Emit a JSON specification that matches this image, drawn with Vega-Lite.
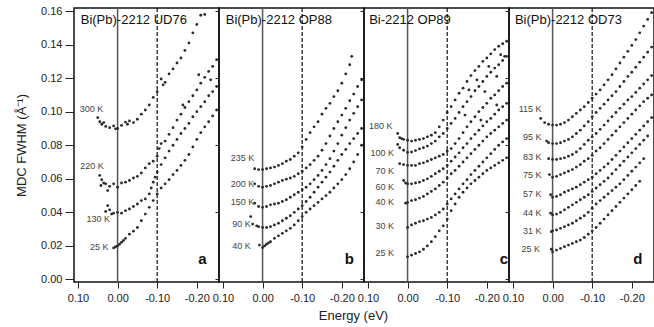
{
"$schema": "https://vega.github.io/schema/vega-lite/v6.json",
"padding": {"left": 14, "top": 4, "right": 2, "bottom": 2},
"background": "white",
"spacing": 0,
"bounds": "flush",
"config": {
  "view": {"stroke": "#111", "strokeWidth": 1.5},
  "font": "Liberation Sans",
  "axis": {"grid": false, "domain": false, "labelFont": "Liberation Sans", "labelFontSize": 11, "labelColor": "#222", "tickColor": "#222", "titleFont": "Liberation Sans", "titleFontWeight": "normal", "titleColor": "#222", "labelOverlap": false},
  "text": {"font": "Liberation Sans"}
},
"datasets": {
"labs": [
{"p":"a","k":"h","E":0.093,"W":0.1545,"txt":"Bi(Pb)-2212 UD76"},
{"p":"b","k":"h","E":0.093,"W":0.1545,"txt":"Bi(Pb)-2212 OP88"},
{"p":"c","k":"h","E":0.097,"W":0.1545,"txt":"Bi-2212 OP89"},
{"p":"d","k":"h","E":0.095,"W":0.1545,"txt":"Bi(Pb)-2212 OD73"},
{"p":"a","k":"l","E":-0.214,"W":0.012,"txt":"a"},
{"p":"b","k":"l","E":-0.219,"W":0.012,"txt":"b"},
{"p":"c","k":"l","E":-0.243,"W":0.012,"txt":"c"},
{"p":"d","k":"l","E":-0.215,"W":0.012,"txt":"d"},
{"p":"a","k":"t","E":0.036,"W":0.1018,"txt":"300 K"},
{"p":"a","k":"t","E":0.035,"W":0.0678,"txt":"220 K"},
{"p":"a","k":"t","E":0.019,"W":0.0359,"txt":"130 K"},
{"p":"a","k":"t","E":0.023,"W":0.0193,"txt":"25 K"},
{"p":"b","k":"t","E":0.021,"W":0.0725,"txt":"235 K"},
{"p":"b","k":"t","E":0.021,"W":0.0569,"txt":"200 K"},
{"p":"b","k":"t","E":0.021,"W":0.0459,"txt":"150 K"},
{"p":"b","k":"t","E":0.03,"W":0.0333,"txt":"90 K"},
{"p":"b","k":"t","E":0.03,"W":0.0199,"txt":"40 K"},
{"p":"c","k":"t","E":0.038,"W":0.0912,"txt":"180 K"},
{"p":"c","k":"t","E":0.034,"W":0.0752,"txt":"100 K"},
{"p":"c","k":"t","E":0.034,"W":0.0649,"txt":"70 K"},
{"p":"c","k":"t","E":0.034,"W":0.0549,"txt":"60 K"},
{"p":"c","k":"t","E":0.034,"W":0.0459,"txt":"40 K"},
{"p":"c","k":"t","E":0.034,"W":0.0319,"txt":"30 K"},
{"p":"c","k":"t","E":0.034,"W":0.0159,"txt":"25 K"},
{"p":"d","k":"t","E":0.028,"W":0.1018,"txt":"115 K"},
{"p":"d","k":"t","E":0.028,"W":0.0848,"txt":"95 K"},
{"p":"d","k":"t","E":0.028,"W":0.0728,"txt":"83 K"},
{"p":"d","k":"t","E":0.028,"W":0.0625,"txt":"75 K"},
{"p":"d","k":"t","E":0.028,"W":0.0509,"txt":"57 K"},
{"p":"d","k":"t","E":0.028,"W":0.0399,"txt":"44 K"},
{"p":"d","k":"t","E":0.028,"W":0.0289,"txt":"31 K"},
{"p":"d","k":"t","E":0.032,"W":0.018,"txt":"25 K"}
],
"pts": [
{"p":"a","E":0.05,"W":0.0965},{"p":"a","E":0.045,"W":0.094},{"p":"a","E":0.04,"W":0.0925},{"p":"a","E":0.035,"W":0.0935},{"p":"a","E":0.03,"W":0.0912},{"p":"a","E":0.02,"W":0.0905},{"p":"a","E":0.01,"W":0.0915},{"p":"a","E":0.005,"W":0.0898},{"p":"a","E":0,"W":0.09},{"p":"a","E":-0.01,"W":0.0918},{"p":"a","E":-0.02,"W":0.0938},{"p":"a","E":-0.025,"W":0.0925},{"p":"a","E":-0.03,"W":0.0945},{"p":"a","E":-0.04,"W":0.0935},{"p":"a","E":-0.05,"W":0.0955},{"p":"a","E":-0.06,"W":0.0985},{"p":"a","E":-0.07,"W":0.101},{"p":"a","E":-0.08,"W":0.104},{"p":"a","E":-0.09,"W":0.1085},{"p":"a","E":-0.1,"W":0.112},{"p":"a","E":-0.11,"W":0.1195},{"p":"a","E":-0.115,"W":0.116},{"p":"a","E":-0.12,"W":0.1175},{"p":"a","E":-0.13,"W":0.1225},{"p":"a","E":-0.14,"W":0.1255},{"p":"a","E":-0.15,"W":0.129},{"p":"a","E":-0.16,"W":0.132},{"p":"a","E":-0.17,"W":0.1365},{"p":"a","E":-0.18,"W":0.141},{"p":"a","E":-0.19,"W":0.147},{"p":"a","E":-0.2,"W":0.152},{"p":"a","E":-0.21,"W":0.1575},{"p":"a","E":-0.22,"W":0.158},
{"p":"a","E":0.045,"W":0.062},{"p":"a","E":0.042,"W":0.056},{"p":"a","E":0.04,"W":0.0595},{"p":"a","E":0.035,"W":0.0575},{"p":"a","E":0.03,"W":0.057},{"p":"a","E":0.025,"W":0.053},{"p":"a","E":0.02,"W":0.0555},{"p":"a","E":0.01,"W":0.057},{"p":"a","E":0,"W":0.055},{"p":"a","E":-0.01,"W":0.0575},{"p":"a","E":-0.02,"W":0.058},{"p":"a","E":-0.03,"W":0.059},{"p":"a","E":-0.04,"W":0.0605},{"p":"a","E":-0.05,"W":0.0615},{"p":"a","E":-0.06,"W":0.0635},{"p":"a","E":-0.07,"W":0.0665},{"p":"a","E":-0.08,"W":0.069},{"p":"a","E":-0.09,"W":0.0705},{"p":"a","E":-0.1,"W":0.0735},{"p":"a","E":-0.105,"W":0.078},{"p":"a","E":-0.11,"W":0.081},{"p":"a","E":-0.12,"W":0.0825},{"p":"a","E":-0.13,"W":0.0865},{"p":"a","E":-0.14,"W":0.0905},{"p":"a","E":-0.15,"W":0.095},{"p":"a","E":-0.16,"W":0.0985},{"p":"a","E":-0.165,"W":0.104},{"p":"a","E":-0.17,"W":0.1025},{"p":"a","E":-0.18,"W":0.106},{"p":"a","E":-0.19,"W":0.1095},{"p":"a","E":-0.2,"W":0.113},{"p":"a","E":-0.205,"W":0.122},{"p":"a","E":-0.21,"W":0.117},{"p":"a","E":-0.22,"W":0.1205},{"p":"a","E":-0.23,"W":0.124},{"p":"a","E":-0.235,"W":0.119},{"p":"a","E":-0.24,"W":0.127},{"p":"a","E":-0.25,"W":0.131},
{"p":"a","E":0.03,"W":0.0405},{"p":"a","E":0.025,"W":0.044},{"p":"a","E":0.02,"W":0.0415},{"p":"a","E":0.015,"W":0.039},{"p":"a","E":0.01,"W":0.0395},{"p":"a","E":0,"W":0.04},{"p":"a","E":-0.01,"W":0.0395},{"p":"a","E":-0.02,"W":0.041},{"p":"a","E":-0.03,"W":0.042},{"p":"a","E":-0.04,"W":0.0435},{"p":"a","E":-0.05,"W":0.045},{"p":"a","E":-0.06,"W":0.047},{"p":"a","E":-0.07,"W":0.048},{"p":"a","E":-0.08,"W":0.051},{"p":"a","E":-0.085,"W":0.0545},{"p":"a","E":-0.09,"W":0.058},{"p":"a","E":-0.095,"W":0.061},{"p":"a","E":-0.1,"W":0.064},{"p":"a","E":-0.11,"W":0.0685},{"p":"a","E":-0.12,"W":0.0725},{"p":"a","E":-0.13,"W":0.0765},{"p":"a","E":-0.14,"W":0.08},{"p":"a","E":-0.15,"W":0.0835},{"p":"a","E":-0.16,"W":0.087},{"p":"a","E":-0.17,"W":0.09},{"p":"a","E":-0.18,"W":0.093},{"p":"a","E":-0.19,"W":0.097},{"p":"a","E":-0.2,"W":0.1},{"p":"a","E":-0.21,"W":0.103},{"p":"a","E":-0.22,"W":0.106},{"p":"a","E":-0.23,"W":0.1095},{"p":"a","E":-0.24,"W":0.112},{"p":"a","E":-0.25,"W":0.115},
{"p":"a","E":0.01,"W":0.0188},{"p":"a","E":0.005,"W":0.0195},{"p":"a","E":0,"W":0.02},{"p":"a","E":-0.005,"W":0.021},{"p":"a","E":-0.01,"W":0.0222},{"p":"a","E":-0.015,"W":0.0233},{"p":"a","E":-0.02,"W":0.0245},{"p":"a","E":-0.03,"W":0.027},{"p":"a","E":-0.04,"W":0.0288},{"p":"a","E":-0.05,"W":0.031},{"p":"a","E":-0.06,"W":0.035},{"p":"a","E":-0.07,"W":0.039},{"p":"a","E":-0.08,"W":0.043},{"p":"a","E":-0.09,"W":0.047},{"p":"a","E":-0.1,"W":0.051},{"p":"a","E":-0.11,"W":0.0545},{"p":"a","E":-0.12,"W":0.057},{"p":"a","E":-0.13,"W":0.0595},{"p":"a","E":-0.14,"W":0.0625},{"p":"a","E":-0.15,"W":0.065},{"p":"a","E":-0.16,"W":0.068},{"p":"a","E":-0.17,"W":0.071},{"p":"a","E":-0.18,"W":0.0745},{"p":"a","E":-0.19,"W":0.079},{"p":"a","E":-0.2,"W":0.0835},{"p":"a","E":-0.21,"W":0.0875},{"p":"a","E":-0.22,"W":0.091},{"p":"a","E":-0.23,"W":0.094},{"p":"a","E":-0.24,"W":0.0975},{"p":"a","E":-0.25,"W":0.101},
{"p":"b","E":0.02,"W":0.066},{"p":"b","E":0.01,"W":0.0655},{"p":"b","E":0,"W":0.0655},{"p":"b","E":-0.01,"W":0.066},{"p":"b","E":-0.02,"W":0.0665},{"p":"b","E":-0.03,"W":0.067},{"p":"b","E":-0.04,"W":0.068},{"p":"b","E":-0.05,"W":0.069},{"p":"b","E":-0.06,"W":0.0705},{"p":"b","E":-0.07,"W":0.0715},{"p":"b","E":-0.08,"W":0.0735},{"p":"b","E":-0.09,"W":0.0755},{"p":"b","E":-0.1,"W":0.079},{"p":"b","E":-0.11,"W":0.0835},{"p":"b","E":-0.12,"W":0.0875},{"p":"b","E":-0.13,"W":0.091},{"p":"b","E":-0.14,"W":0.094},{"p":"b","E":-0.15,"W":0.0985},{"p":"b","E":-0.16,"W":0.102},{"p":"b","E":-0.17,"W":0.105},{"p":"b","E":-0.18,"W":0.109},{"p":"b","E":-0.19,"W":0.1125},{"p":"b","E":-0.2,"W":0.117},{"p":"b","E":-0.21,"W":0.1225},{"p":"b","E":-0.22,"W":0.128},{"p":"b","E":-0.225,"W":0.133},
{"p":"b","E":0.02,"W":0.057},{"p":"b","E":0.01,"W":0.0555},{"p":"b","E":0,"W":0.055},{"p":"b","E":-0.01,"W":0.0555},{"p":"b","E":-0.02,"W":0.056},{"p":"b","E":-0.03,"W":0.057},{"p":"b","E":-0.04,"W":0.058},{"p":"b","E":-0.05,"W":0.059},{"p":"b","E":-0.06,"W":0.0598},{"p":"b","E":-0.07,"W":0.0605},{"p":"b","E":-0.08,"W":0.0615},{"p":"b","E":-0.09,"W":0.063},{"p":"b","E":-0.1,"W":0.0645},{"p":"b","E":-0.11,"W":0.0665},{"p":"b","E":-0.12,"W":0.0685},{"p":"b","E":-0.13,"W":0.071},{"p":"b","E":-0.14,"W":0.0735},{"p":"b","E":-0.15,"W":0.077},{"p":"b","E":-0.16,"W":0.081},{"p":"b","E":-0.17,"W":0.0855},{"p":"b","E":-0.18,"W":0.09},{"p":"b","E":-0.19,"W":0.094},{"p":"b","E":-0.2,"W":0.098},{"p":"b","E":-0.21,"W":0.102},{"p":"b","E":-0.22,"W":0.1065},{"p":"b","E":-0.23,"W":0.1105},{"p":"b","E":-0.24,"W":0.115},{"p":"b","E":-0.25,"W":0.119},
{"p":"b","E":0.02,"W":0.0455},{"p":"b","E":0.01,"W":0.0435},{"p":"b","E":0,"W":0.043},{"p":"b","E":-0.01,"W":0.0435},{"p":"b","E":-0.02,"W":0.0445},{"p":"b","E":-0.03,"W":0.045},{"p":"b","E":-0.04,"W":0.0455},{"p":"b","E":-0.05,"W":0.0465},{"p":"b","E":-0.06,"W":0.0475},{"p":"b","E":-0.07,"W":0.049},{"p":"b","E":-0.08,"W":0.0505},{"p":"b","E":-0.09,"W":0.052},{"p":"b","E":-0.1,"W":0.0535},{"p":"b","E":-0.11,"W":0.055},{"p":"b","E":-0.12,"W":0.057},{"p":"b","E":-0.13,"W":0.0595},{"p":"b","E":-0.14,"W":0.062},{"p":"b","E":-0.15,"W":0.065},{"p":"b","E":-0.16,"W":0.0685},{"p":"b","E":-0.17,"W":0.072},{"p":"b","E":-0.18,"W":0.0765},{"p":"b","E":-0.19,"W":0.081},{"p":"b","E":-0.2,"W":0.086},{"p":"b","E":-0.21,"W":0.0905},{"p":"b","E":-0.22,"W":0.095},{"p":"b","E":-0.23,"W":0.099},{"p":"b","E":-0.24,"W":0.103},{"p":"b","E":-0.25,"W":0.107},
{"p":"b","E":0.03,"W":0.0375},{"p":"b","E":0.025,"W":0.033},{"p":"b","E":0.015,"W":0.032},{"p":"b","E":0.01,"W":0.0315},{"p":"b","E":0,"W":0.031},{"p":"b","E":-0.01,"W":0.031},{"p":"b","E":-0.02,"W":0.0315},{"p":"b","E":-0.03,"W":0.0325},{"p":"b","E":-0.04,"W":0.0335},{"p":"b","E":-0.05,"W":0.035},{"p":"b","E":-0.06,"W":0.0365},{"p":"b","E":-0.07,"W":0.038},{"p":"b","E":-0.08,"W":0.04},{"p":"b","E":-0.09,"W":0.042},{"p":"b","E":-0.1,"W":0.044},{"p":"b","E":-0.11,"W":0.0465},{"p":"b","E":-0.12,"W":0.049},{"p":"b","E":-0.13,"W":0.052},{"p":"b","E":-0.14,"W":0.055},{"p":"b","E":-0.15,"W":0.058},{"p":"b","E":-0.16,"W":0.061},{"p":"b","E":-0.17,"W":0.064},{"p":"b","E":-0.18,"W":0.0675},{"p":"b","E":-0.19,"W":0.071},{"p":"b","E":-0.2,"W":0.0745},{"p":"b","E":-0.21,"W":0.0775},{"p":"b","E":-0.22,"W":0.081},{"p":"b","E":-0.23,"W":0.084},{"p":"b","E":-0.24,"W":0.087},{"p":"b","E":-0.25,"W":0.09},
{"p":"b","E":0.008,"W":0.0205},{"p":"b","E":0,"W":0.019},{"p":"b","E":-0.005,"W":0.02},{"p":"b","E":-0.01,"W":0.021},{"p":"b","E":-0.015,"W":0.0218},{"p":"b","E":-0.02,"W":0.0225},{"p":"b","E":-0.03,"W":0.0245},{"p":"b","E":-0.04,"W":0.026},{"p":"b","E":-0.05,"W":0.0275},{"p":"b","E":-0.06,"W":0.029},{"p":"b","E":-0.07,"W":0.0305},{"p":"b","E":-0.08,"W":0.0325},{"p":"b","E":-0.09,"W":0.035},{"p":"b","E":-0.1,"W":0.0375},{"p":"b","E":-0.11,"W":0.04},{"p":"b","E":-0.12,"W":0.042},{"p":"b","E":-0.13,"W":0.044},{"p":"b","E":-0.14,"W":0.046},{"p":"b","E":-0.15,"W":0.048},{"p":"b","E":-0.16,"W":0.05},{"p":"b","E":-0.17,"W":0.052},{"p":"b","E":-0.18,"W":0.0545},{"p":"b","E":-0.19,"W":0.057},{"p":"b","E":-0.2,"W":0.0595},{"p":"b","E":-0.21,"W":0.0625},{"p":"b","E":-0.22,"W":0.066},{"p":"b","E":-0.23,"W":0.07},{"p":"b","E":-0.24,"W":0.0745},{"p":"b","E":-0.25,"W":0.08},
{"p":"c","E":0.025,"W":0.087},{"p":"c","E":0.02,"W":0.0845},{"p":"c","E":0.015,"W":0.084},{"p":"c","E":0.01,"W":0.0835},{"p":"c","E":0,"W":0.083},{"p":"c","E":-0.01,"W":0.0825},{"p":"c","E":-0.02,"W":0.083},{"p":"c","E":-0.03,"W":0.0835},{"p":"c","E":-0.04,"W":0.084},{"p":"c","E":-0.05,"W":0.085},{"p":"c","E":-0.06,"W":0.086},{"p":"c","E":-0.07,"W":0.0875},{"p":"c","E":-0.08,"W":0.091},{"p":"c","E":-0.09,"W":0.095},{"p":"c","E":-0.1,"W":0.0995},{"p":"c","E":-0.11,"W":0.103},{"p":"c","E":-0.12,"W":0.107},{"p":"c","E":-0.13,"W":0.111},{"p":"c","E":-0.14,"W":0.114},{"p":"c","E":-0.15,"W":0.118},{"p":"c","E":-0.155,"W":0.113},{"p":"c","E":-0.16,"W":0.1215},{"p":"c","E":-0.17,"W":0.1245},{"p":"c","E":-0.175,"W":0.119},{"p":"c","E":-0.18,"W":0.127},{"p":"c","E":-0.19,"W":0.13},{"p":"c","E":-0.2,"W":0.132},{"p":"c","E":-0.205,"W":0.127},{"p":"c","E":-0.21,"W":0.1345},{"p":"c","E":-0.22,"W":0.137},{"p":"c","E":-0.23,"W":0.139},{"p":"c","E":-0.235,"W":0.134},{"p":"c","E":-0.24,"W":0.1405},{"p":"c","E":-0.245,"W":0.133},{"p":"c","E":-0.25,"W":0.142},
{"p":"c","E":0.025,"W":0.0805},{"p":"c","E":0.02,"W":0.0785},{"p":"c","E":0.01,"W":0.077},{"p":"c","E":0,"W":0.0758},{"p":"c","E":-0.01,"W":0.076},{"p":"c","E":-0.02,"W":0.0768},{"p":"c","E":-0.03,"W":0.0778},{"p":"c","E":-0.04,"W":0.0785},{"p":"c","E":-0.05,"W":0.0795},{"p":"c","E":-0.06,"W":0.081},{"p":"c","E":-0.07,"W":0.0825},{"p":"c","E":-0.08,"W":0.085},{"p":"c","E":-0.09,"W":0.087},{"p":"c","E":-0.1,"W":0.09},{"p":"c","E":-0.11,"W":0.093},{"p":"c","E":-0.12,"W":0.096},{"p":"c","E":-0.13,"W":0.0995},{"p":"c","E":-0.14,"W":0.103},{"p":"c","E":-0.145,"W":0.098},{"p":"c","E":-0.15,"W":0.106},{"p":"c","E":-0.16,"W":0.109},{"p":"c","E":-0.17,"W":0.1125},{"p":"c","E":-0.18,"W":0.115},{"p":"c","E":-0.19,"W":0.118},{"p":"c","E":-0.195,"W":0.112},{"p":"c","E":-0.2,"W":0.121},{"p":"c","E":-0.21,"W":0.1235},{"p":"c","E":-0.22,"W":0.126},{"p":"c","E":-0.225,"W":0.121},{"p":"c","E":-0.23,"W":0.128},{"p":"c","E":-0.24,"W":0.1305},{"p":"c","E":-0.25,"W":0.133},
{"p":"c","E":0.02,"W":0.069},{"p":"c","E":0.01,"W":0.0685},{"p":"c","E":0,"W":0.068},{"p":"c","E":-0.01,"W":0.068},{"p":"c","E":-0.02,"W":0.068},{"p":"c","E":-0.03,"W":0.069},{"p":"c","E":-0.04,"W":0.0695},{"p":"c","E":-0.05,"W":0.0705},{"p":"c","E":-0.06,"W":0.0715},{"p":"c","E":-0.07,"W":0.0725},{"p":"c","E":-0.08,"W":0.0735},{"p":"c","E":-0.09,"W":0.0745},{"p":"c","E":-0.1,"W":0.0765},{"p":"c","E":-0.11,"W":0.078},{"p":"c","E":-0.12,"W":0.081},{"p":"c","E":-0.13,"W":0.084},{"p":"c","E":-0.14,"W":0.0875},{"p":"c","E":-0.15,"W":0.091},{"p":"c","E":-0.16,"W":0.094},{"p":"c","E":-0.17,"W":0.097},{"p":"c","E":-0.18,"W":0.1},{"p":"c","E":-0.185,"W":0.095},{"p":"c","E":-0.19,"W":0.1025},{"p":"c","E":-0.2,"W":0.105},{"p":"c","E":-0.21,"W":0.108},{"p":"c","E":-0.22,"W":0.11},{"p":"c","E":-0.225,"W":0.104},{"p":"c","E":-0.23,"W":0.1125},{"p":"c","E":-0.24,"W":0.115},{"p":"c","E":-0.25,"W":0.117},
{"p":"c","E":0.01,"W":0.059},{"p":"c","E":0.005,"W":0.0575},{"p":"c","E":0,"W":0.057},{"p":"c","E":-0.01,"W":0.057},{"p":"c","E":-0.02,"W":0.0575},{"p":"c","E":-0.03,"W":0.058},{"p":"c","E":-0.04,"W":0.059},{"p":"c","E":-0.05,"W":0.06},{"p":"c","E":-0.06,"W":0.0615},{"p":"c","E":-0.07,"W":0.063},{"p":"c","E":-0.08,"W":0.0645},{"p":"c","E":-0.09,"W":0.066},{"p":"c","E":-0.1,"W":0.068},{"p":"c","E":-0.11,"W":0.0705},{"p":"c","E":-0.12,"W":0.073},{"p":"c","E":-0.13,"W":0.0755},{"p":"c","E":-0.14,"W":0.0785},{"p":"c","E":-0.15,"W":0.081},{"p":"c","E":-0.16,"W":0.084},{"p":"c","E":-0.17,"W":0.0865},{"p":"c","E":-0.18,"W":0.089},{"p":"c","E":-0.19,"W":0.0915},{"p":"c","E":-0.2,"W":0.094},{"p":"c","E":-0.21,"W":0.096},{"p":"c","E":-0.22,"W":0.0985},{"p":"c","E":-0.23,"W":0.101},{"p":"c","E":-0.24,"W":0.103},{"p":"c","E":-0.25,"W":0.105},
{"p":"c","E":0.005,"W":0.0455},{"p":"c","E":0,"W":0.046},{"p":"c","E":-0.01,"W":0.047},{"p":"c","E":-0.02,"W":0.0475},{"p":"c","E":-0.03,"W":0.0485},{"p":"c","E":-0.04,"W":0.0495},{"p":"c","E":-0.05,"W":0.051},{"p":"c","E":-0.06,"W":0.0525},{"p":"c","E":-0.07,"W":0.054},{"p":"c","E":-0.08,"W":0.056},{"p":"c","E":-0.09,"W":0.058},{"p":"c","E":-0.1,"W":0.0605},{"p":"c","E":-0.11,"W":0.063},{"p":"c","E":-0.12,"W":0.065},{"p":"c","E":-0.13,"W":0.0675},{"p":"c","E":-0.14,"W":0.07},{"p":"c","E":-0.15,"W":0.0725},{"p":"c","E":-0.16,"W":0.075},{"p":"c","E":-0.17,"W":0.0775},{"p":"c","E":-0.18,"W":0.08},{"p":"c","E":-0.19,"W":0.0825},{"p":"c","E":-0.2,"W":0.085},{"p":"c","E":-0.21,"W":0.087},{"p":"c","E":-0.22,"W":0.089},{"p":"c","E":-0.23,"W":0.091},{"p":"c","E":-0.24,"W":0.093},{"p":"c","E":-0.25,"W":0.095},
{"p":"c","E":0,"W":0.031},{"p":"c","E":-0.01,"W":0.0325},{"p":"c","E":-0.02,"W":0.0335},{"p":"c","E":-0.03,"W":0.0345},{"p":"c","E":-0.04,"W":0.035},{"p":"c","E":-0.05,"W":0.036},{"p":"c","E":-0.06,"W":0.037},{"p":"c","E":-0.07,"W":0.0385},{"p":"c","E":-0.08,"W":0.04},{"p":"c","E":-0.09,"W":0.042},{"p":"c","E":-0.1,"W":0.045},{"p":"c","E":-0.11,"W":0.048},{"p":"c","E":-0.12,"W":0.051},{"p":"c","E":-0.13,"W":0.054},{"p":"c","E":-0.14,"W":0.057},{"p":"c","E":-0.15,"W":0.0595},{"p":"c","E":-0.16,"W":0.0625},{"p":"c","E":-0.17,"W":0.065},{"p":"c","E":-0.18,"W":0.0675},{"p":"c","E":-0.19,"W":0.07},{"p":"c","E":-0.2,"W":0.0725},{"p":"c","E":-0.21,"W":0.075},{"p":"c","E":-0.22,"W":0.0775},{"p":"c","E":-0.23,"W":0.08},{"p":"c","E":-0.24,"W":0.082},{"p":"c","E":-0.25,"W":0.084},
{"p":"c","E":0,"W":0.0135},{"p":"c","E":-0.01,"W":0.0145},{"p":"c","E":-0.02,"W":0.0155},{"p":"c","E":-0.03,"W":0.0165},{"p":"c","E":-0.04,"W":0.018},{"p":"c","E":-0.05,"W":0.02},{"p":"c","E":-0.06,"W":0.0225},{"p":"c","E":-0.07,"W":0.0255},{"p":"c","E":-0.08,"W":0.029},{"p":"c","E":-0.09,"W":0.032},{"p":"c","E":-0.1,"W":0.036},{"p":"c","E":-0.11,"W":0.041},{"p":"c","E":-0.12,"W":0.045},{"p":"c","E":-0.13,"W":0.049},{"p":"c","E":-0.14,"W":0.052},{"p":"c","E":-0.15,"W":0.0545},{"p":"c","E":-0.16,"W":0.057},{"p":"c","E":-0.17,"W":0.059},{"p":"c","E":-0.18,"W":0.061},{"p":"c","E":-0.19,"W":0.063},{"p":"c","E":-0.2,"W":0.065},{"p":"c","E":-0.21,"W":0.0665},{"p":"c","E":-0.22,"W":0.068},{"p":"c","E":-0.23,"W":0.0695},{"p":"c","E":-0.24,"W":0.071},{"p":"c","E":-0.25,"W":0.0725},
{"p":"d","E":0.03,"W":0.096},{"p":"d","E":0.02,"W":0.0935},{"p":"d","E":0.01,"W":0.0925},{"p":"d","E":0,"W":0.092},{"p":"d","E":-0.01,"W":0.092},{"p":"d","E":-0.02,"W":0.0925},{"p":"d","E":-0.03,"W":0.0935},{"p":"d","E":-0.04,"W":0.095},{"p":"d","E":-0.05,"W":0.097},{"p":"d","E":-0.06,"W":0.099},{"p":"d","E":-0.07,"W":0.101},{"p":"d","E":-0.08,"W":0.103},{"p":"d","E":-0.09,"W":0.1055},{"p":"d","E":-0.1,"W":0.108},{"p":"d","E":-0.11,"W":0.1105},{"p":"d","E":-0.12,"W":0.113},{"p":"d","E":-0.13,"W":0.116},{"p":"d","E":-0.14,"W":0.119},{"p":"d","E":-0.15,"W":0.122},{"p":"d","E":-0.16,"W":0.1255},{"p":"d","E":-0.17,"W":0.129},{"p":"d","E":-0.18,"W":0.1325},{"p":"d","E":-0.19,"W":0.136},{"p":"d","E":-0.2,"W":0.1395},{"p":"d","E":-0.21,"W":0.143},{"p":"d","E":-0.22,"W":0.147},{"p":"d","E":-0.23,"W":0.151},{"p":"d","E":-0.24,"W":0.155},{"p":"d","E":-0.25,"W":0.159},
{"p":"d","E":0.015,"W":0.0825},{"p":"d","E":0.01,"W":0.0815},{"p":"d","E":0,"W":0.081},{"p":"d","E":-0.01,"W":0.081},{"p":"d","E":-0.02,"W":0.0815},{"p":"d","E":-0.03,"W":0.0825},{"p":"d","E":-0.04,"W":0.0835},{"p":"d","E":-0.05,"W":0.085},{"p":"d","E":-0.06,"W":0.087},{"p":"d","E":-0.07,"W":0.089},{"p":"d","E":-0.08,"W":0.0915},{"p":"d","E":-0.09,"W":0.094},{"p":"d","E":-0.1,"W":0.097},{"p":"d","E":-0.11,"W":0.0995},{"p":"d","E":-0.12,"W":0.102},{"p":"d","E":-0.13,"W":0.1045},{"p":"d","E":-0.14,"W":0.107},{"p":"d","E":-0.15,"W":0.1095},{"p":"d","E":-0.16,"W":0.112},{"p":"d","E":-0.17,"W":0.115},{"p":"d","E":-0.18,"W":0.118},{"p":"d","E":-0.19,"W":0.121},{"p":"d","E":-0.2,"W":0.1235},{"p":"d","E":-0.21,"W":0.1265},{"p":"d","E":-0.22,"W":0.1295},{"p":"d","E":-0.23,"W":0.1325},{"p":"d","E":-0.24,"W":0.1355},{"p":"d","E":-0.25,"W":0.1385},
{"p":"d","E":0.01,"W":0.072},{"p":"d","E":0,"W":0.0715},{"p":"d","E":-0.01,"W":0.0715},{"p":"d","E":-0.02,"W":0.072},{"p":"d","E":-0.03,"W":0.0725},{"p":"d","E":-0.04,"W":0.0735},{"p":"d","E":-0.05,"W":0.0745},{"p":"d","E":-0.06,"W":0.076},{"p":"d","E":-0.07,"W":0.078},{"p":"d","E":-0.08,"W":0.0805},{"p":"d","E":-0.09,"W":0.083},{"p":"d","E":-0.1,"W":0.085},{"p":"d","E":-0.11,"W":0.087},{"p":"d","E":-0.12,"W":0.0895},{"p":"d","E":-0.13,"W":0.092},{"p":"d","E":-0.14,"W":0.0945},{"p":"d","E":-0.15,"W":0.097},{"p":"d","E":-0.16,"W":0.0995},{"p":"d","E":-0.17,"W":0.102},{"p":"d","E":-0.18,"W":0.1045},{"p":"d","E":-0.19,"W":0.107},{"p":"d","E":-0.2,"W":0.109},{"p":"d","E":-0.21,"W":0.1115},{"p":"d","E":-0.22,"W":0.114},{"p":"d","E":-0.23,"W":0.1165},{"p":"d","E":-0.24,"W":0.119},{"p":"d","E":-0.25,"W":0.1215},
{"p":"d","E":0.008,"W":0.0625},{"p":"d","E":0,"W":0.061},{"p":"d","E":-0.01,"W":0.0615},{"p":"d","E":-0.02,"W":0.0625},{"p":"d","E":-0.03,"W":0.0635},{"p":"d","E":-0.04,"W":0.0645},{"p":"d","E":-0.05,"W":0.0655},{"p":"d","E":-0.06,"W":0.067},{"p":"d","E":-0.07,"W":0.0685},{"p":"d","E":-0.08,"W":0.0705},{"p":"d","E":-0.09,"W":0.072},{"p":"d","E":-0.1,"W":0.074},{"p":"d","E":-0.11,"W":0.0765},{"p":"d","E":-0.12,"W":0.0785},{"p":"d","E":-0.13,"W":0.081},{"p":"d","E":-0.14,"W":0.0835},{"p":"d","E":-0.15,"W":0.086},{"p":"d","E":-0.16,"W":0.0885},{"p":"d","E":-0.17,"W":0.091},{"p":"d","E":-0.18,"W":0.0935},{"p":"d","E":-0.19,"W":0.096},{"p":"d","E":-0.2,"W":0.0985},{"p":"d","E":-0.21,"W":0.101},{"p":"d","E":-0.22,"W":0.1035},{"p":"d","E":-0.23,"W":0.106},{"p":"d","E":-0.24,"W":0.108},{"p":"d","E":-0.25,"W":0.11},
{"p":"d","E":0.005,"W":0.0505},{"p":"d","E":0,"W":0.049},{"p":"d","E":-0.01,"W":0.0495},{"p":"d","E":-0.02,"W":0.0505},{"p":"d","E":-0.03,"W":0.052},{"p":"d","E":-0.04,"W":0.053},{"p":"d","E":-0.05,"W":0.054},{"p":"d","E":-0.06,"W":0.055},{"p":"d","E":-0.07,"W":0.0565},{"p":"d","E":-0.08,"W":0.058},{"p":"d","E":-0.09,"W":0.0595},{"p":"d","E":-0.1,"W":0.061},{"p":"d","E":-0.11,"W":0.063},{"p":"d","E":-0.12,"W":0.065},{"p":"d","E":-0.13,"W":0.067},{"p":"d","E":-0.14,"W":0.069},{"p":"d","E":-0.15,"W":0.0715},{"p":"d","E":-0.16,"W":0.074},{"p":"d","E":-0.17,"W":0.0765},{"p":"d","E":-0.18,"W":0.079},{"p":"d","E":-0.19,"W":0.0815},{"p":"d","E":-0.2,"W":0.084},{"p":"d","E":-0.21,"W":0.0865},{"p":"d","E":-0.22,"W":0.089},{"p":"d","E":-0.23,"W":0.0915},{"p":"d","E":-0.24,"W":0.094},{"p":"d","E":-0.25,"W":0.0965},
{"p":"d","E":0.005,"W":0.0395},{"p":"d","E":0,"W":0.0385},{"p":"d","E":-0.01,"W":0.039},{"p":"d","E":-0.02,"W":0.04},{"p":"d","E":-0.03,"W":0.0415},{"p":"d","E":-0.04,"W":0.043},{"p":"d","E":-0.05,"W":0.0445},{"p":"d","E":-0.06,"W":0.046},{"p":"d","E":-0.07,"W":0.0475},{"p":"d","E":-0.08,"W":0.049},{"p":"d","E":-0.09,"W":0.0505},{"p":"d","E":-0.1,"W":0.0525},{"p":"d","E":-0.11,"W":0.0545},{"p":"d","E":-0.12,"W":0.0565},{"p":"d","E":-0.13,"W":0.0585},{"p":"d","E":-0.14,"W":0.0605},{"p":"d","E":-0.15,"W":0.063},{"p":"d","E":-0.16,"W":0.0655},{"p":"d","E":-0.17,"W":0.068},{"p":"d","E":-0.18,"W":0.0705},{"p":"d","E":-0.19,"W":0.073},{"p":"d","E":-0.2,"W":0.0755},{"p":"d","E":-0.21,"W":0.078},{"p":"d","E":-0.22,"W":0.0805},{"p":"d","E":-0.23,"W":0.083},{"p":"d","E":-0.24,"W":0.0855},
{"p":"d","E":0.003,"W":0.0285},{"p":"d","E":0,"W":0.029},{"p":"d","E":-0.01,"W":0.0295},{"p":"d","E":-0.02,"W":0.0305},{"p":"d","E":-0.03,"W":0.0315},{"p":"d","E":-0.04,"W":0.0325},{"p":"d","E":-0.05,"W":0.0335},{"p":"d","E":-0.06,"W":0.035},{"p":"d","E":-0.07,"W":0.0365},{"p":"d","E":-0.08,"W":0.038},{"p":"d","E":-0.09,"W":0.04},{"p":"d","E":-0.1,"W":0.0425},{"p":"d","E":-0.11,"W":0.045},{"p":"d","E":-0.12,"W":0.047},{"p":"d","E":-0.13,"W":0.049},{"p":"d","E":-0.14,"W":0.051},{"p":"d","E":-0.15,"W":0.053},{"p":"d","E":-0.16,"W":0.055},{"p":"d","E":-0.17,"W":0.057},{"p":"d","E":-0.18,"W":0.0595},{"p":"d","E":-0.19,"W":0.062},{"p":"d","E":-0.2,"W":0.0645},{"p":"d","E":-0.21,"W":0.067},{"p":"d","E":-0.22,"W":0.0695},{"p":"d","E":-0.23,"W":0.072},
{"p":"d","E":0.003,"W":0.018},{"p":"d","E":0,"W":0.0165},{"p":"d","E":-0.01,"W":0.0175},{"p":"d","E":-0.02,"W":0.0185},{"p":"d","E":-0.03,"W":0.0195},{"p":"d","E":-0.04,"W":0.0205},{"p":"d","E":-0.05,"W":0.0215},{"p":"d","E":-0.06,"W":0.0225},{"p":"d","E":-0.07,"W":0.0235},{"p":"d","E":-0.08,"W":0.025},{"p":"d","E":-0.09,"W":0.027},{"p":"d","E":-0.1,"W":0.029},{"p":"d","E":-0.11,"W":0.031},{"p":"d","E":-0.12,"W":0.0335},{"p":"d","E":-0.13,"W":0.036},{"p":"d","E":-0.14,"W":0.0385},{"p":"d","E":-0.15,"W":0.041},{"p":"d","E":-0.16,"W":0.0435},{"p":"d","E":-0.17,"W":0.046},{"p":"d","E":-0.18,"W":0.0485},{"p":"d","E":-0.19,"W":0.051},{"p":"d","E":-0.2,"W":0.0535},{"p":"d","E":-0.21,"W":0.056},{"p":"d","E":-0.22,"W":0.0585}
]
},
"hconcat": [
{
 "width": 145, "height": 274,
 "layer": [
  {"data": {"values": [{"E": 0}]}, "mark": {"type": "rule", "color": "#555", "strokeWidth": 1.5},
   "encoding": {"x": {"field": "E", "type": "quantitative", "scale": {"domain": [0.11, -0.256], "nice": false, "zero": false},
     "axis": {"values": [0.1, 0.05, 0, -0.05, -0.1, -0.15, -0.2, -0.25], "labelExpr": "round(datum.value*20)%2!=0 ? '' : (datum.value < -0.001 ? '-' + format(-datum.value, '.2f') : format(datum.value, '.2f'))", "title": null, "tickSize": 6, "labelPadding": 4, "labelFlush": false, "labelOverlap": false}}}},
  {"data": {"values": [{"E": -0.1}]}, "mark": {"type": "rule", "color": "#111", "strokeWidth": 1.2, "strokeDash": [4, 2]},
   "encoding": {"x": {"field": "E", "type": "quantitative"}}},
  {"data": {"name": "pts"}, "transform": [{"filter": "datum.p=='a'"}], "mark": {"type": "circle", "size": 8, "color": "#2a2a2a", "opacity": 1},
   "encoding": {"x": {"field": "E", "type": "quantitative"},
     "y": {"field": "W", "type": "quantitative", "scale": {"domain": [-0.0015, 0.1618], "nice": false, "zero": false},
       "axis": {"values": [0, 0.02, 0.04, 0.06, 0.08, 0.1, 0.12, 0.14, 0.16], "labelExpr": "format(datum.value, '.2f')", "title": "MDC FWHM (Å⁻¹)", "tickSize": 9, "labelPadding": 3, "titlePadding": 12, "titleFontSize": 13, "labelFlush": false, "labelOverlap": false}}}},
  {"data": {"name": "labs"}, "transform": [{"filter": "datum.p=='a' && datum.k=='t'"}], "mark": {"type": "text", "align": "right", "baseline": "middle", "fontSize": 9, "color": "#444"},
   "encoding": {"x": {"field": "E", "type": "quantitative"},
     "y": {"field": "W", "type": "quantitative", "axis": {"values": [0, 0.02, 0.04, 0.06, 0.08, 0.1, 0.12, 0.14, 0.16], "labelExpr": "format(datum.value, '.2f')", "title": "MDC FWHM (Å⁻¹)", "tickSize": 9, "labelPadding": 3, "titlePadding": 12, "titleFontSize": 13, "labelFlush": false, "labelOverlap": false}},
     "text": {"field": "txt"}}},
  {"data": {"name": "labs"}, "transform": [{"filter": "datum.p=='a' && datum.k=='h'"}], "mark": {"type": "text", "align": "left", "baseline": "middle", "fontSize": 13, "color": "#111"},
   "encoding": {"x": {"field": "E", "type": "quantitative"},
     "y": {"field": "W", "type": "quantitative", "axis": {"values": [0, 0.02, 0.04, 0.06, 0.08, 0.1, 0.12, 0.14, 0.16], "labelExpr": "format(datum.value, '.2f')", "title": "MDC FWHM (Å⁻¹)", "tickSize": 9, "labelPadding": 3, "titlePadding": 12, "titleFontSize": 13, "labelFlush": false, "labelOverlap": false}},
     "text": {"field": "txt"}}},
  {"data": {"name": "labs"}, "transform": [{"filter": "datum.p=='a' && datum.k=='l'"}], "mark": {"type": "text", "align": "center", "baseline": "middle", "fontSize": 15, "fontWeight": "bold", "color": "#111"},
   "encoding": {"x": {"field": "E", "type": "quantitative"},
     "y": {"field": "W", "type": "quantitative", "axis": {"values": [0, 0.02, 0.04, 0.06, 0.08, 0.1, 0.12, 0.14, 0.16], "labelExpr": "format(datum.value, '.2f')", "title": "MDC FWHM (Å⁻¹)", "tickSize": 9, "labelPadding": 3, "titlePadding": 12, "titleFontSize": 13, "labelFlush": false, "labelOverlap": false}},
     "text": {"field": "txt"}}}
 ]
},
{
 "width": 145, "height": 274,
 "layer": [
  {"data": {"values": [{"E": 0}]}, "mark": {"type": "rule", "color": "#555", "strokeWidth": 1.5},
   "encoding": {"x": {"field": "E", "type": "quantitative", "scale": {"domain": [0.11, -0.256], "nice": false, "zero": false},
     "axis": {"values": [0.1, 0.05, 0, -0.05, -0.1, -0.15, -0.2, -0.25], "labelExpr": "round(datum.value*20)%2!=0 ? '' : (datum.value < -0.001 ? '-' + format(-datum.value, '.2f') : format(datum.value, '.2f'))", "title": null, "tickSize": 6, "labelPadding": 4, "labelFlush": false, "labelOverlap": false}}}},
  {"data": {"values": [{"E": -0.1}]}, "mark": {"type": "rule", "color": "#111", "strokeWidth": 1.2, "strokeDash": [4, 2]},
   "encoding": {"x": {"field": "E", "type": "quantitative"}}},
  {"data": {"name": "pts"}, "transform": [{"filter": "datum.p=='b'"}], "mark": {"type": "circle", "size": 8, "color": "#2a2a2a", "opacity": 1},
   "encoding": {"x": {"field": "E", "type": "quantitative"},
     "y": {"field": "W", "type": "quantitative", "scale": {"domain": [-0.0015, 0.1618], "nice": false, "zero": false},
       "axis": {"values": [0, 0.02, 0.04, 0.06, 0.08, 0.1, 0.12, 0.14, 0.16], "labels": false, "title": null, "tickSize": 4, "encode": {"ticks": {"update": {"x": {"value": 4}}}}}}}},
  {"data": {"name": "labs"}, "transform": [{"filter": "datum.p=='b' && datum.k=='t'"}], "mark": {"type": "text", "align": "right", "baseline": "middle", "fontSize": 9, "color": "#444"},
   "encoding": {"x": {"field": "E", "type": "quantitative"}, "y": {"field": "W", "type": "quantitative"}, "text": {"field": "txt"}}},
  {"data": {"name": "labs"}, "transform": [{"filter": "datum.p=='b' && datum.k=='h'"}], "mark": {"type": "text", "align": "left", "baseline": "middle", "fontSize": 13, "color": "#111"},
   "encoding": {"x": {"field": "E", "type": "quantitative"}, "y": {"field": "W", "type": "quantitative"}, "text": {"field": "txt"}}},
  {"data": {"name": "labs"}, "transform": [{"filter": "datum.p=='b' && datum.k=='l'"}], "mark": {"type": "text", "align": "center", "baseline": "middle", "fontSize": 15, "fontWeight": "bold", "color": "#111"},
   "encoding": {"x": {"field": "E", "type": "quantitative"}, "y": {"field": "W", "type": "quantitative"}, "text": {"field": "txt"}}}
 ]
},
{
 "width": 145, "height": 274,
 "layer": [
  {"data": {"values": [{"E": 0}]}, "mark": {"type": "rule", "color": "#555", "strokeWidth": 1.5},
   "encoding": {"x": {"field": "E", "type": "quantitative", "scale": {"domain": [0.11, -0.256], "nice": false, "zero": false},
     "axis": {"values": [0.1, 0.05, 0, -0.05, -0.1, -0.15, -0.2, -0.25], "labelExpr": "round(datum.value*20)%2!=0 ? '' : (datum.value < -0.001 ? '-' + format(-datum.value, '.2f') : format(datum.value, '.2f'))", "title": "Energy (eV)", "titleFontSize": 13, "titleX": -11, "titleY": 33, "titleAlign": "center", "titleBaseline": "middle", "tickSize": 6, "labelPadding": 4, "labelFlush": false, "labelOverlap": false}}}},
  {"data": {"values": [{"E": -0.1}]}, "mark": {"type": "rule", "color": "#111", "strokeWidth": 1.2, "strokeDash": [4, 2]},
   "encoding": {"x": {"field": "E", "type": "quantitative"}}},
  {"data": {"name": "pts"}, "transform": [{"filter": "datum.p=='c'"}], "mark": {"type": "circle", "size": 8, "color": "#2a2a2a", "opacity": 1},
   "encoding": {"x": {"field": "E", "type": "quantitative"},
     "y": {"field": "W", "type": "quantitative", "scale": {"domain": [-0.0015, 0.1618], "nice": false, "zero": false},
       "axis": {"values": [0, 0.02, 0.04, 0.06, 0.08, 0.1, 0.12, 0.14, 0.16], "labels": false, "title": null, "tickSize": 4, "encode": {"ticks": {"update": {"x": {"value": 4}}}}}}}},
  {"data": {"name": "labs"}, "transform": [{"filter": "datum.p=='c' && datum.k=='t'"}], "mark": {"type": "text", "align": "right", "baseline": "middle", "fontSize": 9, "color": "#444"},
   "encoding": {"x": {"field": "E", "type": "quantitative"}, "y": {"field": "W", "type": "quantitative"}, "text": {"field": "txt"}}},
  {"data": {"name": "labs"}, "transform": [{"filter": "datum.p=='c' && datum.k=='h'"}], "mark": {"type": "text", "align": "left", "baseline": "middle", "fontSize": 13, "color": "#111"},
   "encoding": {"x": {"field": "E", "type": "quantitative"}, "y": {"field": "W", "type": "quantitative"}, "text": {"field": "txt"}}},
  {"data": {"name": "labs"}, "transform": [{"filter": "datum.p=='c' && datum.k=='l'"}], "mark": {"type": "text", "align": "center", "baseline": "middle", "fontSize": 15, "fontWeight": "bold", "color": "#111"},
   "encoding": {"x": {"field": "E", "type": "quantitative"}, "y": {"field": "W", "type": "quantitative"}, "text": {"field": "txt"}}}
 ]
},
{
 "width": 145, "height": 274,
 "layer": [
  {"data": {"values": [{"E": 0}]}, "mark": {"type": "rule", "color": "#555", "strokeWidth": 1.5},
   "encoding": {"x": {"field": "E", "type": "quantitative", "scale": {"domain": [0.11, -0.256], "nice": false, "zero": false},
     "axis": {"values": [0.1, 0.05, 0, -0.05, -0.1, -0.15, -0.2, -0.25], "labelExpr": "round(datum.value*20)%2!=0 ? '' : (datum.value < -0.001 ? '-' + format(-datum.value, '.2f') : format(datum.value, '.2f'))", "title": null, "tickSize": 6, "labelPadding": 4, "labelFlush": false, "labelOverlap": false}}}},
  {"data": {"values": [{"E": -0.1}]}, "mark": {"type": "rule", "color": "#111", "strokeWidth": 1.2, "strokeDash": [4, 2]},
   "encoding": {"x": {"field": "E", "type": "quantitative"}}},
  {"data": {"name": "pts"}, "transform": [{"filter": "datum.p=='d'"}], "mark": {"type": "circle", "size": 8, "color": "#2a2a2a", "opacity": 1},
   "encoding": {"x": {"field": "E", "type": "quantitative"},
     "y": {"field": "W", "type": "quantitative", "scale": {"domain": [-0.0015, 0.1618], "nice": false, "zero": false},
       "axis": {"values": [0, 0.02, 0.04, 0.06, 0.08, 0.1, 0.12, 0.14, 0.16], "labels": false, "title": null, "tickSize": 4, "encode": {"ticks": {"update": {"x": {"value": 4}}}}}}}},
  {"data": {"name": "labs"}, "transform": [{"filter": "datum.p=='d' && datum.k=='t'"}], "mark": {"type": "text", "align": "right", "baseline": "middle", "fontSize": 9, "color": "#444"},
   "encoding": {"x": {"field": "E", "type": "quantitative"}, "y": {"field": "W", "type": "quantitative"}, "text": {"field": "txt"}}},
  {"data": {"name": "labs"}, "transform": [{"filter": "datum.p=='d' && datum.k=='h'"}], "mark": {"type": "text", "align": "left", "baseline": "middle", "fontSize": 13, "color": "#111"},
   "encoding": {"x": {"field": "E", "type": "quantitative"}, "y": {"field": "W", "type": "quantitative"}, "text": {"field": "txt"}}},
  {"data": {"name": "labs"}, "transform": [{"filter": "datum.p=='d' && datum.k=='l'"}], "mark": {"type": "text", "align": "center", "baseline": "middle", "fontSize": 15, "fontWeight": "bold", "color": "#111"},
   "encoding": {"x": {"field": "E", "type": "quantitative"}, "y": {"field": "W", "type": "quantitative"}, "text": {"field": "txt"}}}
 ]
}
]
}
